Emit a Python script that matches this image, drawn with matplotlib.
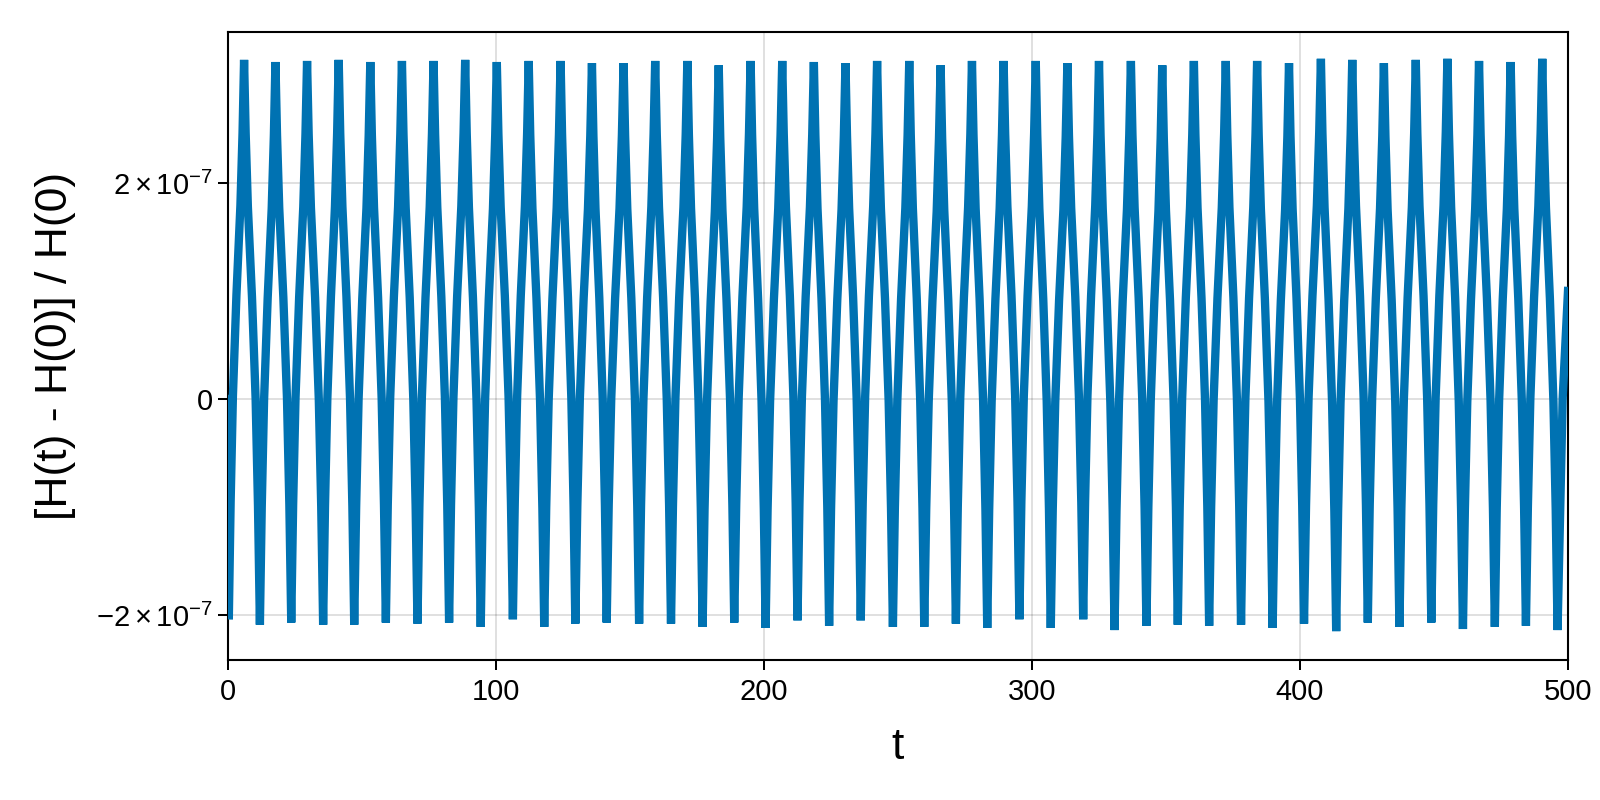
import matplotlib
matplotlib.use("Agg")
import matplotlib.pyplot as plt
from matplotlib.ticker import FixedLocator, FuncFormatter

plt.rcParams['font.family'] = ['Liberation Sans', 'DejaVu Sans']
plt.rcParams['mathtext.fontset'] = 'custom'
plt.rcParams['mathtext.rm'] = 'Liberation Sans'
plt.rcParams['mathtext.it'] = 'Liberation Sans:italic'

# peaks / troughs of the relative energy error (units of 1e-7)
peak_t = [6.0, 17.7, 29.5, 41.3, 53.1, 64.9, 76.7, 88.5, 100.3, 112.2, 124.1, 135.8,
          147.6, 159.4, 171.4, 183.1, 195.0, 206.8, 218.6, 230.4, 242.2, 254.2, 265.9,
          277.6, 289.4, 301.4, 313.2, 325.0, 336.9, 348.6, 360.4, 372.3, 384.0, 395.9,
          407.8, 419.5, 431.3, 443.2, 455.0, 466.8, 478.6, 490.4]
peak_v = [3.14, 3.12, 3.13, 3.14, 3.12, 3.13, 3.13, 3.14, 3.12,
          3.13, 3.13, 3.11, 3.11, 3.13, 3.13, 3.09,
          3.13, 3.13, 3.12, 3.11, 3.13, 3.13, 3.09, 3.13, 3.13, 3.13,
          3.11, 3.13, 3.13, 3.09, 3.13, 3.13, 3.13, 3.11,
          3.15, 3.14, 3.11, 3.14, 3.15, 3.13, 3.12, 3.15]
trough_t = [0.3, 11.9, 23.6, 35.5, 47.1, 58.9, 70.7, 82.5, 94.3, 106.3, 118.0, 129.6,
            141.3, 153.4, 165.3, 177.1, 188.9, 200.6, 212.5, 224.3, 236.1, 248.1, 259.8,
            271.6, 283.3, 295.3, 307.0, 319.1, 330.8, 342.7, 354.4, 366.1, 378.0, 389.8,
            401.5, 413.5, 425.3, 437.1, 449.0, 460.8, 472.7, 484.3, 496.1]
trough_v = [-2.04, -2.09, -2.07, -2.09, -2.09, -2.07, -2.08, -2.07, -2.11, -2.04,
            -2.11, -2.08, -2.07, -2.08, -2.08, -2.11, -2.07,
            -2.12, -2.05, -2.10, -2.05, -2.11, -2.11, -2.08, -2.12, -2.04,
            -2.12, -2.04, -2.14, -2.10, -2.09, -2.10, -2.09, -2.12, -2.08,
            -2.15, -2.07, -2.11, -2.07, -2.13, -2.11, -2.10, -2.14]

# shape of one rise (trough -> peak), read from a single cycle
rise_frac = [0.12, 0.27, 0.5, 0.76, 0.9]
rise_lvl = [0.21, 0.40, 0.58, 0.74, 0.87]

# start and end of the record
start_t, start_v = [0.0], [0.0]
end_t, end_v = [497.1, 498.0, 500.0], [-1.0, 0.0, 1.0]

t = list(start_t)
v = list(start_v)
for i in range(len(trough_t)):
    t.append(trough_t[i]); v.append(trough_v[i])
    if i >= len(peak_t):
        break
    a, b = trough_v[i], peak_v[i]
    t0, t1 = trough_t[i], peak_t[i]
    for f, n in zip(rise_frac, rise_lvl):
        t.append(t0 + f * (t1 - t0)); v.append(a + n * (b - a))
    t.append(t1); v.append(b)
    c, t2 = trough_v[i + 1], trough_t[i + 1]
    for f, n in zip(reversed(rise_frac), reversed(rise_lvl)):
        t.append(t1 + (1 - f) * (t2 - t1)); v.append(c + n * (b - c))
t += end_t
v += end_v
v = [x * 1e-7 for x in v]

fig = plt.figure(figsize=(16, 8), dpi=100)
ax = fig.add_axes([0.1425, 0.175, 0.8375, 0.785])

ax.plot(t, v, color='#0072B2', linewidth=6, solid_joinstyle='bevel', zorder=3)

ax.set_xlim(0, 500)
ax.set_ylim(-2.417e-7, 3.398e-7)
ax.xaxis.set_major_locator(FixedLocator([0, 100, 200, 300, 400, 500]))
ax.yaxis.set_major_locator(FixedLocator([-2e-7, 0, 2e-7]))

def yfmt(val, pos):
    if abs(val) < 1e-12:
        return '0'
    m = val / 1e-7
    return r'$%d\times10^{-7}$' % round(m)

ax.yaxis.set_major_formatter(FuncFormatter(yfmt))

ax.grid(True, color='black', alpha=0.12, linewidth=1.45, zorder=0)
ax.set_axisbelow(True)
for s in ax.spines.values():
    s.set_linewidth(1.5)
ax.tick_params(direction='out', length=7.2, width=1.45, labelsize=21)
ax.tick_params(axis='x', pad=6)
ax.tick_params(axis='y', pad=3.6)

ax.set_xlabel('t', fontsize=32, va='center')
ax.set_ylabel('[H(t) - H(0)] / H(0)', fontsize=32, va='center')
ax.xaxis.set_label_coords(0.5, -0.14)
ax.yaxis.set_label_coords(-0.129, 0.5)

fig.savefig('out.png', dpi=100)
